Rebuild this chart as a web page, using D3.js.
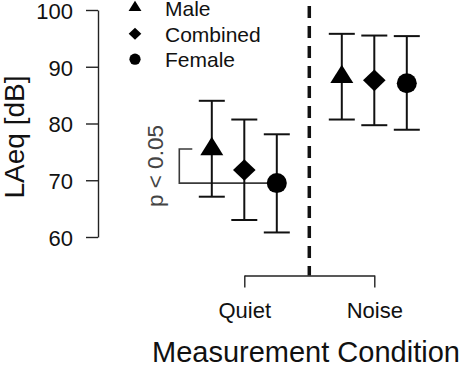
<!DOCTYPE html>
<html>
<head>
<meta charset="utf-8">
<script src="https://cdn.jsdelivr.net/npm/d3@7"></script>
<style>
  html, body { margin: 0; padding: 0; background: #fff; }
  svg { display: block; font-family: "Liberation Sans", Arial, Helvetica, sans-serif; }
</style>
</head>
<body>
<svg id="chart" width="466" height="367"></svg>
<script>
// ---- data ----
const conditions = ["Quiet", "Noise"];
const groups = ["Male", "Combined", "Female"];
const maleMean = [75.5, 88.2];
const maleLow = [67.1, 80.7];
const maleHigh = [84.0, 95.8];
const combinedMean = [71.8, 87.6];
const combinedLow = [63.0, 79.7];
const combinedHigh = [80.7, 95.5];
const femaleMean = [69.5, 87.1];
const femaleLow = [60.8, 78.9];
const femaleHigh = [78.1, 95.4];
const yTicks = [60, 70, 80, 90, 100];
const groupOffsets = [-0.25, 0, 0.25];
const sigLabel = "p < 0.05";
const yTitle = "LAeq [dB]";
const xTitle = "Measurement Condition";

const series = [
  { name: groups[0], shape: "triangle", mean: maleMean, lo: maleLow, hi: maleHigh, off: groupOffsets[0] },
  { name: groups[1], shape: "diamond", mean: combinedMean, lo: combinedLow, hi: combinedHigh, off: groupOffsets[1] },
  { name: groups[2], shape: "circle", mean: femaleMean, lo: femaleLow, hi: femaleHigh, off: groupOffsets[2] }
];

const svg = d3.select("#chart");
const x = d3.scaleLinear().domain([1, 2]).range([244.3, 374.3]);
const y = d3.scaleLinear().domain([60, 100]).range([237, 10]);

// shape path generator (centered at 0,0), scale factor k
function shapePath(shape, k) {
  if (shape === "triangle") {
    return `M0,${-12.2 * k}L${11.5 * k},${6.1 * k}L${-11.5 * k},${6.1 * k}Z`;
  } else if (shape === "diamond") {
    return `M0,${-10.8 * k}L${11.3 * k},0L0,${10.8 * k}L${-11.3 * k},0Z`;
  } else {
    const r = 10 * k;
    return `M${r},0A${r},${r} 0 1,1 ${-r},0A${r},${r} 0 1,1 ${r},0Z`;
  }
}

// ---- y axis ----
const yAxis = d3.axisLeft(y).tickValues(yTicks).tickSize(12).tickSizeOuter(0).tickPadding(13);
const gy = svg.append("g").attr("transform", "translate(98,0)").call(yAxis);
gy.selectAll("path, line").attr("stroke", "#222").attr("stroke-width", 1.4);
gy.selectAll("text").attr("font-size", 22).attr("fill", "#111").attr("dy", "0.38em")
  .style("font-family", "'Liberation Sans', Arial, sans-serif");

svg.append("text")
  .attr("transform", "translate(24,137) rotate(-90)")
  .attr("text-anchor", "middle")
  .attr("font-size", 28)
  .attr("fill", "#111")
  .text(yTitle);

// ---- bottom axis ----
const xAxis = d3.axisBottom(x).tickValues([1, 2]).tickFormat((d, i) => conditions[i])
  .tickSize(12).tickSizeOuter(0).tickPadding(15);
const gx = svg.append("g").attr("transform", "translate(0,275.5)").call(xAxis);
gx.selectAll("path, line").attr("stroke", "#222").attr("stroke-width", 1.4);
gx.selectAll("text").attr("font-size", 22).attr("fill", "#111")
  .style("font-family", "'Liberation Sans', Arial, sans-serif");

svg.append("text")
  .attr("x", 152)
  .attr("y", 362)
  .attr("font-size", 29)
  .attr("fill", "#111")
  .text(xTitle);

// ---- dashed divider ----
svg.append("line")
  .attr("x1", x(1.5)).attr("x2", x(1.5))
  .attr("y1", 6).attr("y2", 275.5)
  .attr("stroke", "#111").attr("stroke-width", 3.5)
  .attr("stroke-dasharray", "12 8");

// ---- significance bracket ----
const bx = x(0.5);
const yTop = y(maleMean[0]);
const yBot = y(femaleMean[0]);
svg.append("path")
  .attr("d", `M${x(0.6)},${yTop}H${bx}V${yBot}H${x(1 + groupOffsets[2])}`)
  .attr("fill", "none").attr("stroke", "#3a3a3a").attr("stroke-width", 1.6);
svg.append("text")
  .attr("transform", `translate(163,${(yTop + yBot) / 2}) rotate(-90)`)
  .attr("text-anchor", "middle")
  .attr("font-size", 22.5)
  .attr("fill", "#444")
  .text(sigLabel);

// ---- error bars + markers ----
const capHalf = 13;
series.forEach(s => {
  const g = svg.append("g");
  conditions.forEach((c, i) => {
    const cx = x(i + 1 + s.off);
    g.append("line").attr("x1", cx).attr("x2", cx).attr("y1", y(s.lo[i])).attr("y2", y(s.hi[i]))
      .attr("stroke", "#111").attr("stroke-width", 2);
    [s.lo[i], s.hi[i]].forEach(v => {
      g.append("line").attr("x1", cx - capHalf).attr("x2", cx + capHalf).attr("y1", y(v)).attr("y2", y(v))
        .attr("stroke", "#111").attr("stroke-width", 2);
    });
  });
});
series.forEach(s => {
  conditions.forEach((c, i) => {
    svg.append("path")
      .attr("transform", `translate(${x(i + 1 + s.off)},${y(s.mean[i])})`)
      .attr("d", shapePath(s.shape, 1))
      .attr("fill", "#000");
  });
});

// ---- legend ----
const legendY = [7.7, 33.8, 59.2];
series.forEach((s, i) => {
  svg.append("path")
    .attr("transform", `translate(135,${legendY[i]})`)
    .attr("d", shapePath(s.shape, 0.56))
    .attr("fill", "#000");
  svg.append("text")
    .attr("x", 165).attr("y", legendY[i] + 8)
    .attr("font-size", 21)
    .attr("fill", "#111")
    .text(s.name);
});
</script>
</body>
</html>
